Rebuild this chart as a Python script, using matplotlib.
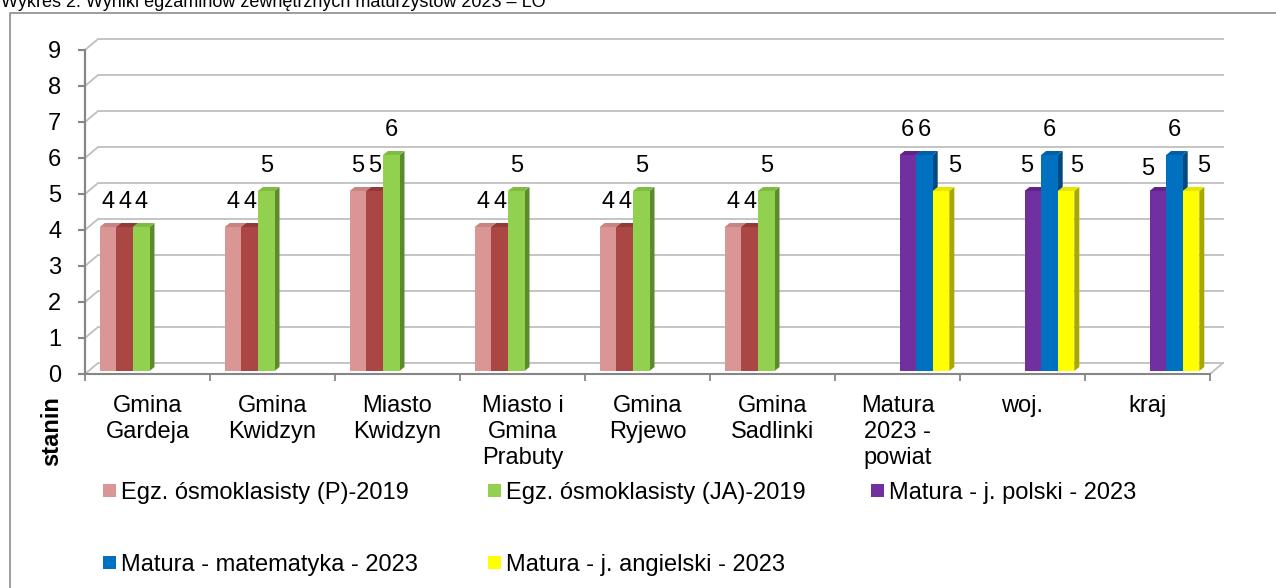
import numpy as np
import matplotlib.pyplot as plt
from matplotlib.patches import Polygon, Rectangle
from matplotlib.lines import Line2D
from matplotlib.transforms import offset_copy

plt.rcParams['font.family'] = ['Liberation Sans', 'DejaVu Sans']

# data
categories = ['Gmina\nGardeja', 'Gmina\nKwidzyn', 'Miasto\nKwidzyn', 'Miasto i\nGmina\nPrabuty',
              'Gmina\nRyjewo', 'Gmina\nSadlinki', 'Matura\n2023 -\npowiat', 'woj.', 'kraj']
egz_p_2019 = [4, 4, 5, 4, 4, 4, None, None, None]
egz_m_2019 = [4, 4, 5, 4, 4, 4, None, None, None]
egz_ja_2019 = [4, 5, 6, 5, 5, 5, None, None, None]
mat_pol_2023 = [None, None, None, None, None, None, 6, 5, 5]
mat_mat_2023 = [None, None, None, None, None, None, 6, 6, 6]
mat_ang_2023 = [None, None, None, None, None, None, 5, 5, 5]
yticks = list(range(0, 10))
title = 'Wykres 2. Wyniki egzaminów zewnętrznych maturzystów 2023 – LO'

series = [egz_p_2019, egz_m_2019, egz_ja_2019, mat_pol_2023, mat_mat_2023, mat_ang_2023]
names = ['Egz. ósmoklasisty (P)-2019', None, 'Egz. ósmoklasisty (JA)-2019',
         'Matura - j. polski - 2023', 'Matura - matematyka - 2023', 'Matura - j. angielski - 2023']
front = ['#D99694', '#AA4643', '#92D050', '#7030A0', '#0070C0', '#FFFF00']
topc = ['#C98482', '#93393A', '#80BC42', '#5E2488', '#005FA6', '#E6E600']
side = ['#B06C6A', '#7A2D2A', '#5C8A2C', '#4A1A6E', '#004A80', '#A8A800']

# label nudges in pixels (series, category): (dx, dy)
nudge = {(5, 6): (14, 0), (3, 7): (-6, 0), (5, 7): (11, 0), (3, 8): (-10, -3), (5, 8): (13, 0)}

W, H = 1276, 588
fig = plt.figure(figsize=(W / 100, H / 100), dpi=100)
ax = fig.add_axes([85 / W, 1 - 374 / H, 1125 / W, 324 / H])
ax.set_xlim(0, 9)
ax.set_ylim(0, 9)
for s in ax.spines.values():
    s.set_visible(False)

pxx = 1125 / 9
pxy = 324 / 9
bdx, bdy = 13 / pxx, 11 / pxy  # wall depth
grid_c = '#BFBFBF'
axis_c = '#868686'

# back wall grid + left wall diagonals
for v in yticks:
    ax.add_line(Line2D([0, bdx, 9 + bdx], [v, v + bdy, v + bdy], color=grid_c, lw=1.3, clip_on=False, zorder=1))
ax.add_line(Line2D([9, 9 + bdx], [0, bdy], color=grid_c, lw=1.3, clip_on=False, zorder=1))
# floor front / y axis
ax.add_line(Line2D([0, 9], [0, 0], color=axis_c, lw=1.5, clip_on=False, zorder=1.5))
ax.add_line(Line2D([0, 0], [0, 9], color=axis_c, lw=1.6, clip_on=False, zorder=1.5))

ax.set_yticks(yticks)
ax.set_yticklabels([str(t) for t in yticks], fontsize=17)
ax.tick_params(axis='y', length=5, width=1.5, color=axis_c, pad=12)
ax.set_xticks(np.arange(0, 10))
ax.set_xticklabels([])
ax.tick_params(axis='x', which='major', length=5, width=1.3, color=axis_c)
ax.set_xticks(np.arange(9) + 0.5, minor=True)
ax.set_xticklabels(categories, minor=True, fontsize=17, linespacing=1.25)
ax.tick_params(axis='x', which='minor', length=0, pad=15)

# bars (pseudo 3D)
bar_tr = offset_copy(ax.transData, fig=fig, x=2, y=3, units='dots')
w = 16.6 / pxx
ddx, ddy = 5 / pxx, 4 / pxy
x = np.arange(9) + 0.5
for k, vals in enumerate(series):
    z = 2 + 0.1 * k
    for i, v in enumerate(vals):
        if v is None:
            continue
        left = x[i] + (k - 3) * w
        right = left + w
        ax.add_patch(Polygon([(right, 0), (right + ddx, ddy), (right + ddx, v + ddy), (right, v)],
                             closed=True, fc=side[k], ec='none', transform=bar_tr, zorder=z, clip_on=False))
        ax.add_patch(Polygon([(left, v), (right, v), (right + ddx, v + ddy), (left + ddx, v + ddy)],
                             closed=True, fc=topc[k], ec='none', transform=bar_tr, zorder=z, clip_on=False))
        ax.bar(left, v, width=w, align='edge', color=front[k], transform=bar_tr, zorder=z + 0.05, clip_on=False)
        dx, dy = nudge.get((k, i), (0, 0))
        ax.annotate(str(v), xy=(left + w / 2, v), xycoords=bar_tr,
                    xytext=(dx * 0.72, (19 + dy) * 0.72), textcoords='offset points',
                    ha='center', va='baseline', fontsize=17, zorder=5)

# y label
fig.text(52 / W, 1 - 431 / H, 'stanin', rotation=90, fontsize=17, fontweight='bold', ha='center', va='center')

# legend (manual, excel-like)
leg_pos = [(103, 490), (None, None), (488, 490), (871, 490), (103, 562), (488, 562)]
for k, nm in enumerate(names):
    if nm is None:
        continue
    lx, ly = leg_pos[k]
    fig.add_artist(Rectangle((lx / W, 1 - (ly + 6.5) / H), 13 / W, 13 / H, transform=fig.transFigure,
                             fc=front[k], ec='none'))
    fig.text((lx + 18) / W, 1 - ly / H, nm, fontsize=17, ha='left', va='center_baseline')

# outer frame and cut title
fig.add_artist(Line2D([10 / W, 10 / W, 1.0], [0.0, 1 - 13 / H, 1 - 13 / H], transform=fig.transFigure,
                      color='#8C8C8C', lw=1.2))
fig.text(1 / W, 1 - 7 / H, title, fontsize=13, ha='left', va='baseline')

fig.savefig('out.png', dpi=100)
